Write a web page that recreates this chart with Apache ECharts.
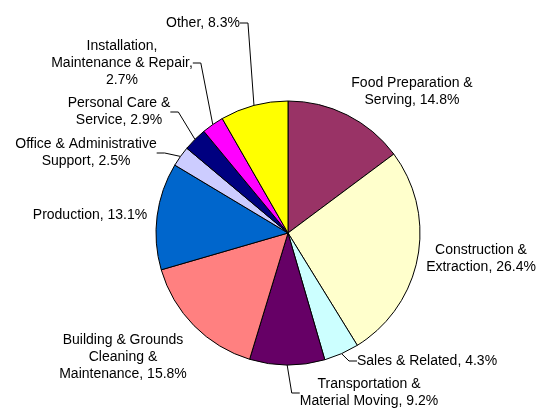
<!DOCTYPE html>
<html>
<head>
<meta charset="UTF-8">
<script src="https://cdn.jsdelivr.net/npm/echarts@6/dist/echarts.min.js"></script>
<style>
  html, body { margin: 0; padding: 0; background: #fff; }
  #chart { width: 544px; height: 411px; }
</style>
</head>
<body>
<div id="chart"></div>
<script>
// occupation shares, clockwise from 12 o'clock
var categories = ['Food Preparation & Serving', 'Construction & Extraction', 'Sales & Related',
  'Transportation & Material Moving', 'Building & Grounds Cleaning & Maintenance', 'Production',
  'Office & Administrative Support', 'Personal Care & Service',
  'Installation, Maintenance & Repair', 'Other'];
var shares = [14.8, 26.4, 4.3, 9.2, 15.8, 13.1, 2.5, 2.9, 2.7, 8.3];
// label text with line breaks, {v} is replaced by the share
var labelText = ['Food Preparation &\nServing, {v}%', 'Construction &\nExtraction, {v}%',
  'Sales & Related, {v}%', 'Transportation &\nMaterial Moving, {v}%',
  'Building & Grounds\nCleaning &\nMaintenance, {v}%', 'Production, {v}%',
  'Office & Administrative\nSupport, {v}%', 'Personal Care &\nService, {v}%',
  'Installation,\nMaintenance & Repair,\n{v}%', 'Other, {v}%'];
var colors = ['#993366', '#FFFFCC', '#CCFFFF', '#660066', '#FF8080',
  '#0066CC', '#CCCCFF', '#000080', '#FF00FF', '#FFFF00'];

// label anchor per slice [x, y, align, leader line]
var labelPos = [
  [412, 92, 'center', false],
  [481, 259, 'center', false],
  [357, 361, 'left', true],
  [369, 393, 'center', true],
  [123, 357, 'center', false],
  [90, 215, 'center', false],
  [86, 153, 'center', true],
  [119, 112, 'center', true],
  [122, 63, 'center', true],
  [203, 23, 'center', true]
];

var data = [];
for (var i = 0; i < categories.length; i++) {
  data.push({
    name: categories[i],
    value: shares[i],
    itemStyle: { color: colors[i] },
    labelLine: { show: labelPos[i][3] }
  });
}

var myChart = echarts.init(document.getElementById('chart'));
myChart.setOption({
  animation: false,
  series: [{
    type: 'pie',
    center: [288, 233],
    radius: 132,
    startAngle: 90,
    clockwise: true,
    data: data,
    itemStyle: { borderColor: '#000', borderWidth: 1 },
    label: {
      show: true,
      position: 'outside',
      overflow: 'none',
      fontFamily: 'Liberation Sans, Arial, sans-serif',
      fontSize: 14,
      lineHeight: 17,
      color: '#000',
      formatter: function (p) {
        return labelText[p.dataIndex].replace('{v}', p.value.toFixed(1));
      }
    },
    labelLine: {
      lineStyle: { color: '#000', width: 1 },
      length: 8,
      length2: 8
    },
    labelLayout: function (p) {
      var lp = labelPos[p.dataIndex];
      return { x: lp[0], y: lp[1], align: lp[2], verticalAlign: 'middle', hideOverlap: false, moveOverlap: null };
    }
  }]
});
</script>
</body>
</html>
